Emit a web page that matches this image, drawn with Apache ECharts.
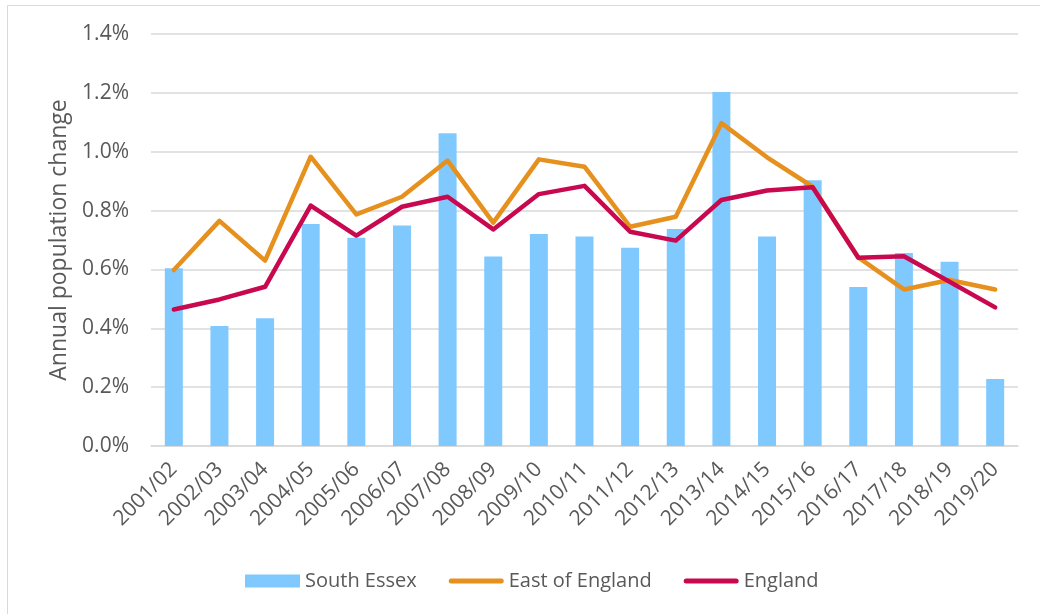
<!DOCTYPE html>
<html>
<head>
<meta charset="utf-8">
<script src="https://cdn.jsdelivr.net/npm/echarts@6/dist/echarts.min.js"></script>
<style>
html,body{margin:0;padding:0;background:#fff;}
#chart{width:1040px;height:614px;}
</style>
</head>
<body>
<div id="chart"></div>
<script>
const categories = ["2001/02","2002/03","2003/04","2004/05","2005/06","2006/07","2007/08","2008/09","2009/10","2010/11","2011/12","2012/13","2013/14","2014/15","2015/16","2016/17","2017/18","2018/19","2019/20"];
const southEssex = [0.604,0.408,0.434,0.754,0.708,0.749,1.063,0.644,0.720,0.712,0.674,0.737,1.203,0.712,0.903,0.540,0.656,0.626,0.228];
const eastOfEngland = [0.598,0.765,0.630,0.983,0.787,0.847,0.970,0.759,0.974,0.949,0.745,0.779,1.097,0.981,0.881,0.641,0.532,0.564,0.532];
const england = [0.464,0.498,0.541,0.817,0.715,0.813,0.847,0.736,0.856,0.884,0.728,0.698,0.836,0.868,0.879,0.640,0.645,0.558,0.471];

const FONT = "Open Sans";
const TXT = "#595959";
const LINE_ICON = 'path://M2.5,0 L52.5,0 A2.5,2.5 0 0 1 52.5,5 L2.5,5 A2.5,2.5 0 0 1 2.5,0 Z';
const chart = echarts.init(document.getElementById('chart'), null, {renderer:'canvas'});
chart.setOption({
  animation:false,
  backgroundColor:'#fff',
  textStyle:{fontFamily:FONT},
  graphic:[{type:'rect',shape:{x:7.5,y:5.5,width:1100,height:700},style:{fill:'none',stroke:'#d9d9d9',lineWidth:1},silent:true,z:-1}],
  grid:{left:151,right:22,top:34,bottom:168,containLabel:false},
  legend:{
    bottom:18,left:240,itemGap:32,itemWidth:55,itemHeight:13,
    textStyle:{color:TXT,fontSize:20,fontFamily:FONT},
    data:[{name:'South Essex',icon:'rect'},{name:'East of England',icon:LINE_ICON},{name:'England',icon:LINE_ICON}]
  },
  xAxis:{
    type:'category',data:categories,
    axisLine:{lineStyle:{color:'#d9d9d9',width:1.5}},
    axisTick:{show:false},
    axisLabel:{rotate:45,color:TXT,fontSize:21,fontFamily:FONT,margin:20,interval:0}
  },
  yAxis:{
    type:'value',min:0,max:1.4,interval:0.2,
    name:'Annual population change',nameLocation:'middle',nameGap:80,nameRotate:90,
    nameTextStyle:{color:TXT,fontSize:23,fontFamily:FONT},
    axisLabel:{color:TXT,fontSize:21,fontFamily:FONT,margin:22,formatter:v=>v.toFixed(1)+'%'},
    splitLine:{lineStyle:{color:'#d9d9d9',width:1.5}},
    axisLine:{show:false},axisTick:{show:false}
  },
  series:[
    {name:'South Essex',type:'bar',data:southEssex,barWidth:18,itemStyle:{color:'#80C9FF'}},
    {name:'East of England',type:'line',data:eastOfEngland,symbol:'none',lineStyle:{color:'#E6901E',width:4.5,cap:'round',join:'round'},itemStyle:{color:'#E6901E'}},
    {name:'England',type:'line',data:england,symbol:'none',lineStyle:{color:'#C8084F',width:4.5,cap:'round',join:'round'},itemStyle:{color:'#C8084F'}}
  ]
});
</script>
</body>
</html>
